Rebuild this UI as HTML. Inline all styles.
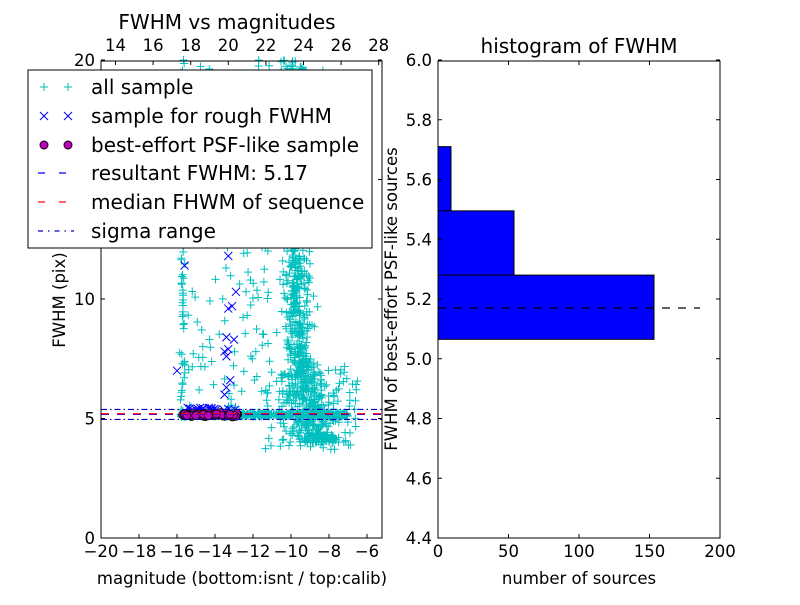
<!DOCTYPE html>
<html><head><meta charset="utf-8"><style>
body{margin:0;background:#fff;}
svg text{font-family:"DejaVu Sans","Liberation Sans",sans-serif;}
</style></head><body>
<svg id="s" width="800" height="600" xmlns="http://www.w3.org/2000/svg">
<rect width="800" height="600" fill="#fff"/>
<g id="pts"></g>
<g id="fg"></g>
</svg>
<script>
var pts=document.getElementById('pts'),fg=document.getElementById('fg');
var seed=12345;function r(){seed=(seed*1103515245+12345)%2147483648;return seed/2147483648;}
function n(){return (r()+r()+r()+r()-2)/1.15;}
function X(v){return 101+(v+20)*19.0;}function Y(v){return 538-v*23.9;}
var h='';
function plus(x,y,c){h+='<path d="M'+(x-4)+' '+y+'h8M'+x+' '+(y-4)+'v8" stroke="'+(c||'#00bfbf')+'" stroke-width="1" fill="none"/>';}
function cross(x,y){h+='<path d="M'+(x-4)+' '+(y-4)+'l8 8M'+(x-4)+' '+(y+4)+'l8 -8" stroke="#0000ff" stroke-width="1"/>';}
var i,m,y;
for(i=0;i<500;i++){m=-15.8+r()*8.8;y=5.15+n()*0.08;plus(X(m),Y(y));}
for(i=0;i<80;i++){m=-15.7+n()*0.15;y=5+Math.pow(r(),1.3)*15;plus(X(m),Y(y));}
for(i=0;i<130;i++){m=-15.6+r()*4.5;y=5.3+r()*14.5;plus(X(m),Y(y));}
for(i=0;i<900;i++){y=4+Math.pow(r(),1.5)*16;var c=-9.6+(8-y)*0.25*(y<8?1:0.15);m=c+n()*(0.6+(y<7?0.6:0.1));plus(X(m),Y(y));}
for(i=0;i<100;i++){m=-11.5+r()*5;y=3.7+r()*3.5;plus(X(m),Y(y));}
for(i=0;i<80;i++){m=-12.5+r()*4.5;y=6+r()*14;plus(X(m),Y(y));}
var bx=[[-16,7],[-15.6,11.4],[-13.3,11.8],[-13.1,9.7],[-13.3,9.6],[-12.9,10.3],[-13.4,8.4],[-13.3,7.9],[-13.4,7.6],[-13,8.3],[-13.5,7.8],[-13.2,6.6],[-13.4,6.3],[-13.5,6],[-14.9,5.4],[-14.2,5.4],[-13.3,5.4]];
bx.forEach(function(p){cross(X(p[0]),Y(p[1]));});
for(i=0;i<20;i++){cross(X(-15.5+r()*2.6),Y(5.25+r()*0.2));}
for(i=0;i<70;i++){m=-15.7+r()*2.9;y=5.15+n()*0.07;h+='<circle cx="'+X(m)+'" cy="'+Y(y)+'" r="4" fill="#bf00bf" stroke="#000" stroke-width="0.8"/>';}
pts.innerHTML=h;
var g='';
g+='<line x1="101" x2="382" y1="'+Y(5.17)+'" y2="'+Y(5.17)+'" stroke="#0000ff" stroke-dasharray="8,8" stroke-width="1.2"/>';
g+='<line x1="101" x2="382" y1="'+Y(5.2)+'" y2="'+Y(5.2)+'" stroke="#ff0000" stroke-dasharray="8,8" stroke-width="1.2"/>';
g+='<line x1="101" x2="382" y1="'+Y(5.38)+'" y2="'+Y(5.38)+'" stroke="#0000bf" stroke-dasharray="6,3,1.5,3" stroke-width="1.2"/>';
g+='<line x1="101" x2="382" y1="'+Y(4.96)+'" y2="'+Y(4.96)+'" stroke="#0000bf" stroke-dasharray="6,3,1.5,3" stroke-width="1.2"/>';
g+='<rect x="101" y="61" width="281" height="477" fill="none" stroke="#000"/>';
for(var v=-20;v<=-6;v+=2){var x=X(v);g+='<line x1="'+x+'" x2="'+x+'" y1="538" y2="534" stroke="#000"/>';g+='<text x="'+x+'" y="557" font-size="16.5" text-anchor="middle">\u2212'+(-v)+'</text>';}
for(v=14;v<=28;v+=2){var x2=115.5+(v-14)*18.8;g+='<line x1="'+x2+'" x2="'+x2+'" y1="61" y2="65" stroke="#000"/><text x="'+x2+'" y="51" font-size="16.5" text-anchor="middle">'+v+'</text>';}
[0,5,10,15,20].forEach(function(v){var yy=Y(v);g+='<line x1="101" x2="105" y1="'+yy+'" y2="'+yy+'" stroke="#000"/><line x1="378" x2="382" y1="'+yy+'" y2="'+yy+'" stroke="#000"/><text x="95" y="'+(yy+6)+'" font-size="16.5" text-anchor="end">'+v+'</text>';});
g+='<text x="227" y="29" font-size="20" text-anchor="middle">FWHM vs magnitudes</text>';
g+='<text x="242" y="584" font-size="16.5" text-anchor="middle">magnitude (bottom:isnt / top:calib)</text>';
g+='<text transform="translate(65,300) rotate(-90)" font-size="16.5" text-anchor="middle">FWHM (pix)</text>';
g+='<rect x="28" y="70" width="344" height="178" fill="#fff" stroke="#000"/>';
var ly=[87,116,145,173,202,231];
[44,68].forEach(function(x){g+='<path d="M'+(x-4)+' 87h8M'+x+' 83v8" stroke="#00bfbf"/>';g+='<path d="M'+(x-4)+' 112l8 8M'+(x-4)+' 120l8 -8" stroke="#0000ff"/>';g+='<circle cx="'+x+'" cy="145" r="4" fill="#bf00bf" stroke="#000"/>';});
g+='<line x1="38" x2="74" y1="173" y2="173" stroke="#0000ff" stroke-dasharray="7,14" stroke-width="1.2"/>';
g+='<line x1="38" x2="74" y1="202" y2="202" stroke="#ff0000" stroke-dasharray="7,14" stroke-width="1.2"/>';
g+='<line x1="38" x2="74" y1="231" y2="231" stroke="#0000bf" stroke-dasharray="5,5,1.5,5" stroke-width="1.2"/>';
["all sample","sample for rough FWHM","best-effort PSF-like sample","resultant FWHM: 5.17","median FHWM of sequence","sigma range"].forEach(function(t,k){g+='<text x="91" y="'+(ly[k]+7)+'" font-size="20">'+t+'</text>';});
function RY(v){return 538-(v-4.4)*298.75;}function RX(v){return 438+v*1.41;}
g+='<rect x="438" y="'+RY(5.71)+'" width="13" height="'+(RY(5.495)-RY(5.71))+'" fill="#0000ff" stroke="#000"/>';
g+='<rect x="438" y="'+RY(5.495)+'" width="76" height="'+(RY(5.28)-RY(5.495))+'" fill="#0000ff" stroke="#000"/>';
g+='<rect x="438" y="'+RY(5.28)+'" width="216" height="'+(RY(5.065)-RY(5.28))+'" fill="#0000ff" stroke="#000"/>';
g+='<line x1="438" x2="700" y1="'+RY(5.17)+'" y2="'+RY(5.17)+'" stroke="#000" stroke-dasharray="8,8" stroke-width="1.2"/>';
g+='<rect x="438" y="61" width="282" height="477" fill="none" stroke="#000"/>';
for(v=0;v<=200;v+=50){var x3=RX(v);g+='<line x1="'+x3+'" x2="'+x3+'" y1="538" y2="534" stroke="#000"/><line x1="'+x3+'" x2="'+x3+'" y1="61" y2="65" stroke="#000"/><text x="'+x3+'" y="557" font-size="16.5" text-anchor="middle">'+v+'</text>';}
for(i=0;i<=8;i++){v=4.4+i*0.2;var y3=RY(v);g+='<line x1="438" x2="442" y1="'+y3+'" y2="'+y3+'" stroke="#000"/><line x1="716" x2="720" y1="'+y3+'" y2="'+y3+'" stroke="#000"/><text x="432" y="'+(y3+6)+'" font-size="16.5" text-anchor="end">'+v.toFixed(1)+'</text>';}
g+='<text x="579" y="53" font-size="20" text-anchor="middle">histogram of FWHM</text>';
g+='<text x="579" y="584" font-size="16.5" text-anchor="middle">number of sources</text>';
g+='<text transform="translate(397,299) rotate(-90)" font-size="16.5" text-anchor="middle">FWHM of best-effort PSF-like sources</text>';
fg.innerHTML=g;
</script>
</body></html>
